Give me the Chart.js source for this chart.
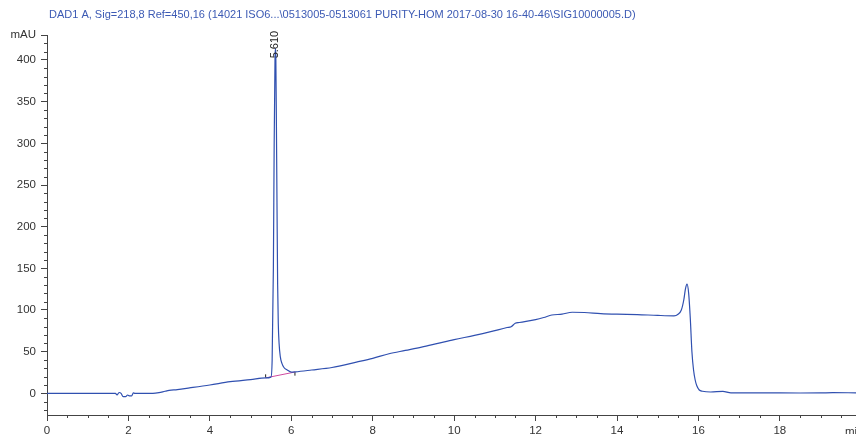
<!DOCTYPE html>
<html>
<head>
<meta charset="utf-8">
<script src="https://cdn.jsdelivr.net/npm/chart.js@4.4.1/dist/chart.umd.min.js"></script>
<style>
  html, body { margin: 0; padding: 0; background: #fff; }
  #wrap { width: 856px; height: 434px; position: relative; }
</style>
</head>
<body>
<div id="wrap"><canvas id="myChart"></canvas></div>
<script>
// chromatogram trace (min / mAU)
var times = [0, 1.0, 1.68, 1.72, 1.77, 1.82, 1.87, 1.93, 1.98, 2.03, 2.08, 2.12, 2.16, 2.6, 2.75, 2.9, 3.0, 3.2, 3.5, 4.0, 4.5, 5.0, 5.37, 5.5,
  5.53, 5.56, 5.58, 5.6, 5.61, 5.62, 5.635, 5.65, 5.665, 5.68, 5.7, 5.73, 5.77, 5.82, 5.9, 6.0, 6.1, 6.5, 7.0, 7.6, 8.0, 8.4, 8.8,
  9.2, 9.6, 10.0, 10.5, 10.9, 11.3, 11.4, 11.5, 11.6, 12.0, 12.2, 12.4, 12.65, 12.9, 13.2, 13.6, 14.0, 14.5, 15.0, 15.4, 15.5,
  15.58, 15.64, 15.68, 15.72, 15.76, 15.8, 15.84, 15.88, 15.92, 15.96, 16.02, 16.1, 16.3, 16.6, 16.8, 17.5, 18.5, 19.0, 19.3, 19.87];
var signal = [0, 0, 0, -2, 1, 0, -4, -4, -2, -3, -3, 0.5, 0, 0, 0.8, 2.5, 3.5, 4.5, 6.5, 10, 14, 16.5, 18.5, 19.5,
  40, 150, 300, 400, 414, 405, 320, 220, 130, 85, 60, 44, 36, 31, 28, 25.5, 25.8, 28, 31, 37.5, 42, 47.5, 51.5,
  55.5, 60, 64.5, 69.5, 74, 79, 80, 84, 85, 88.5, 91, 94, 95, 97.3, 97, 95.7, 95, 94.5, 93.5, 93, 95,
  100, 112, 125, 131, 120, 90, 50, 28, 16, 9, 4, 2.5, 1.6, 2.4, 0.5, 0.5, 0.4, 0.5, 0.8, 0.6];

// integration baseline of the labelled peak
var baseTimes = [5.37, 6.09];
var baseValues = [18.5, 25.6];
// start / end marks of the integration
var markTimes = [5.37, 6.09];
var markLow = [18.9, 21.2];
var markHigh = [22.8, 25.6];

var peakTimes = [5.61];
var peakHeights = [414];
var peakLabels = ['5.610'];

var xTicks = [];
for (var t = 0; t <= 19.5; t += 0.5) xTicks.push(t);
var yTicks = [];
for (var v = -20; v <= 430; v += 10) yTicks.push(v);

var titleText = 'DAD1 A, Sig=218,8 Ref=450,16 (14021 ISO6...\\0513005-0513061 PURITY-HOM 2017-08-30 16-40-46\\SIG10000005.D)';

var trace = times.map(function(x, i){ return {x: x, y: signal[i]}; });
var baseline = baseTimes.map(function(x, i){ return {x: x, y: baseValues[i]}; });
var marks = [];
for (var i = 0; i < markTimes.length; i++) {
  marks.push({x: markTimes[i], y: markLow[i]});
  marks.push({x: markTimes[i], y: markHigh[i]});
  marks.push({x: markTimes[i], y: null});
}

var isMajorX = function(v){ return Math.abs(v % 2) < 1e-9; };
var isMajorY = function(v){ return v % 50 === 0 || v === 430; };

var extras = {
  id: 'extras',
  afterDraw: function(chart){
    var c = chart.ctx, xs = chart.scales.x, ys = chart.scales.y;
    c.save();
    c.strokeStyle = '#444';
    c.lineWidth = 1;
    // minor ticks
    xTicks.forEach(function(v){
      if (isMajorX(v)) return;
      var px = Math.round(xs.getPixelForValue(v)) + 0.5;
      c.beginPath(); c.moveTo(px, xs.top); c.lineTo(px, xs.top + 3); c.stroke();
    });
    yTicks.forEach(function(v){
      if (isMajorY(v)) return;
      var py = Math.round(ys.getPixelForValue(v)) + 0.5;
      c.beginPath(); c.moveTo(ys.right - 3, py); c.lineTo(ys.right, py); c.stroke();
    });
    // peak labels
    c.fillStyle = '#222';
    c.font = '11px "Liberation Sans", Arial, sans-serif';
    c.textBaseline = 'middle';
    c.textAlign = 'left';
    peakTimes.forEach(function(pt, i){
      var px = xs.getPixelForValue(pt);
      var py = ys.getPixelForValue(peakHeights[i]) + 10;
      c.save();
      c.translate(px, py);
      c.rotate(-Math.PI / 2);
      c.fillText(peakLabels[i], 0, 0);
      c.restore();
    });
    // title
    c.fillStyle = '#3c5ab4';
    c.fillText(titleText, 49, 15);
    // axis unit
    c.fillStyle = '#333';
    c.font = '11.5px "Liberation Sans", Arial, sans-serif';
    c.textBaseline = 'top';
    c.fillText('min', 845, 426);
    c.restore();
  }
};

var ctx = document.getElementById('myChart');
var myChart = new Chart(ctx, {
  type: 'line',
  data: {
    datasets: [{
      label: 'DAD1 A',
      data: trace,
      borderColor: '#3050b0',
      borderWidth: 1.2,
      pointRadius: 0,
      tension: 0.3,
      cubicInterpolationMode: 'monotone'
    }, {
      label: 'baseline',
      data: baseline,
      borderColor: '#d04aa0',
      borderWidth: 1,
      pointRadius: 0
    }, {
      label: 'marks',
      data: marks,
      borderColor: '#222',
      borderWidth: 1,
      pointRadius: 0,
      spanGaps: false
    }]
  },
  options: {
    responsive: true,
    maintainAspectRatio: false,
    animation: false,
    layout: { padding: { top: 35, right: 0, left: 0, bottom: 0 } },
    plugins: {
      legend: { display: false },
      tooltip: { enabled: false },
      title: { display: false }
    },
    scales: {
      x: {
        type: 'linear',
        min: 0,
        max: 19.87,
        afterBuildTicks: function(scale){ scale.ticks = xTicks.map(function(v){ return {value: v}; }); },
        afterFit: function(scale){ scale.height = 19; },
        ticks: {
          autoSkip: false,
          maxRotation: 0,
          padding: 3,
          color: '#333',
          font: { family: '"Liberation Sans", Arial, sans-serif', size: 11.5 },
          callback: function(v){ return isMajorX(v) ? String(v) : ''; }
        },
        grid: {
          drawOnChartArea: false,
          tickLength: 6,
          tickColor: function(c){ return c.tick && isMajorX(c.tick.value) ? '#444' : 'rgba(0,0,0,0)'; }
        },
        border: { display: true, color: '#444', width: 1 }
      },
      y: {
        type: 'linear',
        min: -26,
        max: 430,
        afterBuildTicks: function(scale){ scale.ticks = yTicks.map(function(v){ return {value: v}; }); },
        afterFit: function(scale){ scale.width = 47; },
        ticks: {
          autoSkip: false,
          padding: 5,
          color: '#333',
          font: { family: '"Liberation Sans", Arial, sans-serif', size: 11.5 },
          callback: function(v){
            if (v === 430) return 'mAU';
            return v % 50 === 0 ? String(v) : '';
          }
        },
        grid: {
          drawOnChartArea: false,
          tickLength: 6,
          tickColor: function(c){ return c.tick && isMajorY(c.tick.value) ? '#444' : 'rgba(0,0,0,0)'; }
        },
        border: { display: true, color: '#444', width: 1 }
      }
    }
  },
  plugins: [extras]
});
</script>
</body>
</html>
